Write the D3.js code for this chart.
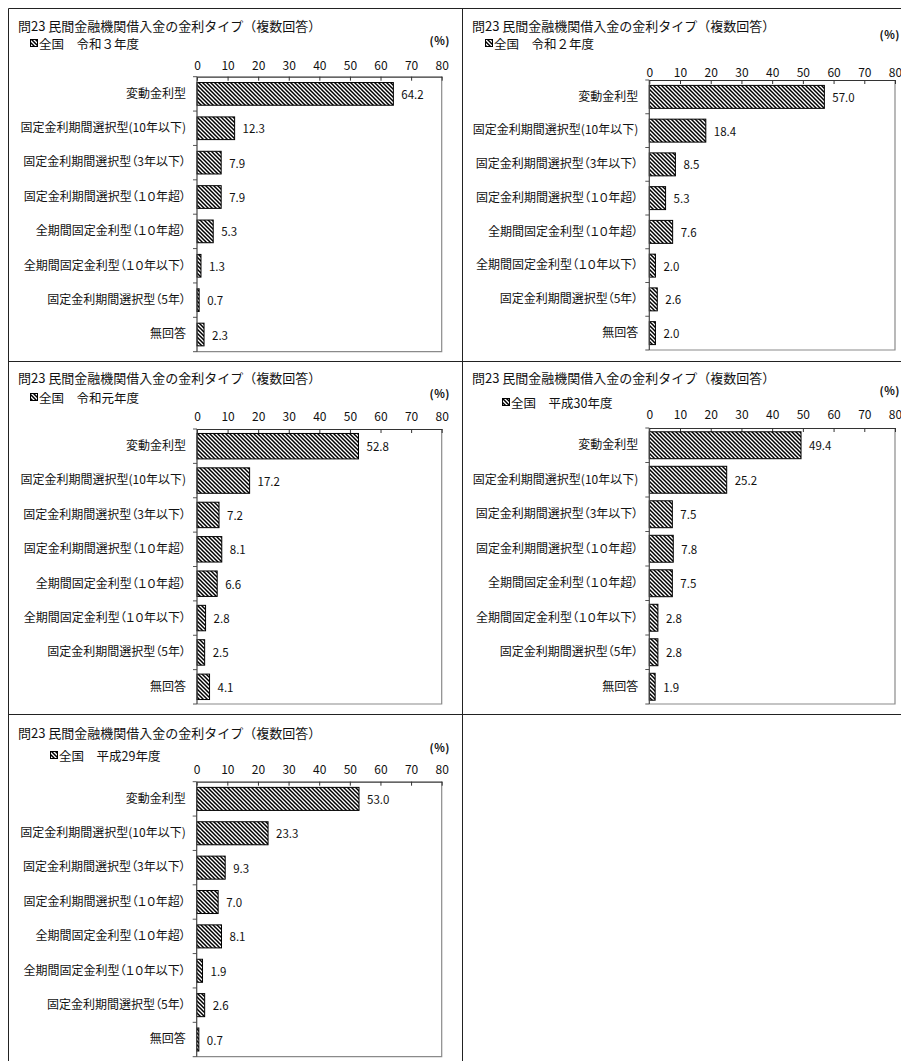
<!DOCTYPE html>
<html><head><meta charset="utf-8">
<script src="https://cdn.jsdelivr.net/npm/d3@7"></script>
<style>
body{margin:0;background:#fff}
svg{display:block}
text{font-family:"Noto Sans CJK JP","Noto Sans",sans-serif;fill:#111}
</style>
</head><body>
<svg id="c" width="901" height="1061"></svg>
<script>
const categories = [
  "変動金利型",
  "固定金利期間選択型(10年以下)",
  "固定金利期間選択型（3年以下）",
  "固定金利期間選択型（１０年超）",
  "全期間固定金利型（１０年超）",
  "全期間固定金利型（１０年以下）",
  "固定金利期間選択型（5年）",
  "無回答"
];
const tickValues = [0, 10, 20, 30, 40, 50, 60, 70, 80];
const titleText = "問23 民間金融機関借入金の金利タイプ（複数回答）";
const unitText = "(%)";
const yearLabels = ["全国　令和３年度", "全国　令和２年度", "全国　令和元年度", "全国　平成30年度", "全国　平成29年度"];
const valuesR3 = [64.2, 12.3, 7.9, 7.9, 5.3, 1.3, 0.7, 2.3];
const valuesR2 = [57.0, 18.4, 8.5, 5.3, 7.6, 2.0, 2.6, 2.0];
const valuesR1 = [52.8, 17.2, 7.2, 8.1, 6.6, 2.8, 2.5, 4.1];
const valuesH30 = [49.4, 25.2, 7.5, 7.8, 7.5, 2.8, 2.8, 1.9];
const valuesH29 = [53.0, 23.3, 9.3, 7.0, 8.1, 1.9, 2.6, 0.7];
const seriesList = [valuesR3, valuesR2, valuesR1, valuesH30, valuesH29];

// layout (absolute pixel positions per panel)
const layouts = [
  {tx: 18, ty: 25, sx: 30, sy: 43, ux: 450, uy: 40, ky: 64, x0: 197, x1: 441.7, y0: 76.7, y1: 351.7, pad: 0.34},
  {tx: 472, ty: 25, sx: 485, sy: 43, ux: 900, uy: 34, ky: 71, x0: 649.3, x1: 895, y0: 80, y1: 350, pad: 0.32},
  {tx: 18, ty: 377, sx: 30, sy: 397, ux: 450, uy: 393, ky: 415, x0: 197, x1: 441.7, y0: 429, y1: 704, pad: 0.26},
  {tx: 472, ty: 377, sx: 502, sy: 402, ux: 900, uy: 390, ky: 413, x0: 649.3, x1: 895, y0: 428, y1: 704, pad: 0.22},
  {tx: 18, ty: 732, sx: 50, sy: 755, ux: 450, uy: 747, ky: 768, x0: 196.7, x1: 441.7, y0: 781.7, y1: 1056.7, pad: 0.33}
];

const svg = d3.select("#c");
const defs = svg.append("defs");
const pat = defs.append("pattern").attr("id", "hatch")
  .attr("patternUnits", "userSpaceOnUse").attr("width", 4).attr("height", 4);
pat.append("rect").attr("width", 4).attr("height", 4).attr("fill", "#fff");
pat.append("path").attr("d", "M-1,-1L5,5M-1,3L1,5M3,-1L5,1")
  .attr("stroke", "#000").attr("stroke-width", 1.5);

// panel frame lines
const frame = svg.append("g").attr("stroke", "#222").attr("stroke-width", 1).attr("fill", "none");
frame.append("line").attr("x1", 8.5).attr("x2", 901).attr("y1", 8.5).attr("y2", 8.5);
frame.append("line").attr("x1", 8.5).attr("x2", 8.5).attr("y1", 8.5).attr("y2", 1061);
frame.append("line").attr("x1", 462.5).attr("x2", 462.5).attr("y1", 8.5).attr("y2", 1061);
frame.append("line").attr("x1", 8.5).attr("x2", 901).attr("y1", 361.5).attr("y2", 361.5);
frame.append("line").attr("x1", 8.5).attr("x2", 901).attr("y1", 714.5).attr("y2", 714.5);

seriesList.forEach((vals, i) => {
  const L = layouts[i];
  const g = svg.append("g");
  const x = d3.scaleLinear().domain([0, 80]).range([L.x0, L.x1]);
  const y = d3.scaleBand().domain(categories).range([L.y0, L.y1])
    .paddingInner(L.pad).paddingOuter(L.pad / 2);

  g.append("text").attr("x", L.tx).attr("y", L.ty).attr("dominant-baseline", "central")
    .attr("font-size", 13).text(titleText);

  // legend swatch + year label
  g.append("rect").attr("x", L.sx + 0.5).attr("y", L.sy - 3.5).attr("width", 7).attr("height", 7)
    .attr("fill", "url(#hatch)").attr("stroke", "#000").attr("stroke-width", 1);
  g.append("text").attr("x", L.sx + 9).attr("y", L.sy).attr("dominant-baseline", "central")
    .attr("font-size", 12.5).text(yearLabels[i]);

  g.append("text").attr("x", L.ux).attr("y", L.uy).attr("dominant-baseline", "central")
    .attr("text-anchor", "end").attr("font-size", 11).attr("font-weight", "bold")
    .attr("letter-spacing", 0.5).text(unitText);

  // plot frame (right & bottom grey)
  g.append("path").attr("d", `M${L.x1},${L.y0}V${L.y1}H${L.x0}`)
    .attr("fill", "none").attr("stroke", "#8a8a8a").attr("stroke-width", 1.2);

  // top axis
  const ax = g.append("g").attr("transform", `translate(0,${L.y0})`)
    .call(d3.axisTop(x).tickValues(tickValues).tickSize(-4).tickSizeOuter(0).tickPadding(0));
  ax.select(".domain").attr("stroke", "#333").attr("stroke-width", 1.2);
  ax.selectAll(".tick line").attr("stroke", "#333");
  ax.selectAll(".tick text").attr("y", L.ky - L.y0).attr("dy", null)
    .attr("dominant-baseline", "central").attr("font-size", 12)
    .attr("font-family", '"Noto Sans CJK JP",sans-serif').attr("fill", "#111");

  // left axis: labels
  const ay = g.append("g").attr("transform", `translate(${L.x0},0)`)
    .call(d3.axisLeft(y).tickSize(0).tickPadding(11));
  ay.select(".domain").remove();
  ay.selectAll(".tick text").attr("font-size", 12)
    .attr("font-family", '"Noto Sans CJK JP",sans-serif').attr("fill", "#111")
    .style("font-feature-settings", '"palt"');
  // boundary ticks
  const step = y.step();
  const bounds = d3.range(categories.length + 1).map(k => y.range()[0] + k * step);
  g.selectAll(".btick").data(bounds).join("line")
    .attr("x1", L.x0 - 4).attr("x2", L.x0).attr("y1", d => d).attr("y2", d => d)
    .attr("stroke", "#555");

  // bars
  g.selectAll(".bar").data(vals).join("rect")
    .attr("x", x(0)).attr("y", (d, k) => y(categories[k]))
    .attr("width", d => x(d) - x(0)).attr("height", y.bandwidth())
    .attr("fill", "url(#hatch)").attr("stroke", "#000").attr("stroke-width", 1);

  g.selectAll(".val").data(vals).join("text")
    .attr("x", d => x(d) + 8).attr("y", (d, k) => y(categories[k]) + y.bandwidth() / 2)
    .attr("dominant-baseline", "central").attr("font-size", 11.5)
    .text(d => d.toFixed(1));

  // left axis line
  g.append("line").attr("x1", L.x0).attr("x2", L.x0).attr("y1", L.y0).attr("y2", L.y1)
    .attr("stroke", "#444").attr("stroke-width", 1.2);
});
</script>
</body></html>
